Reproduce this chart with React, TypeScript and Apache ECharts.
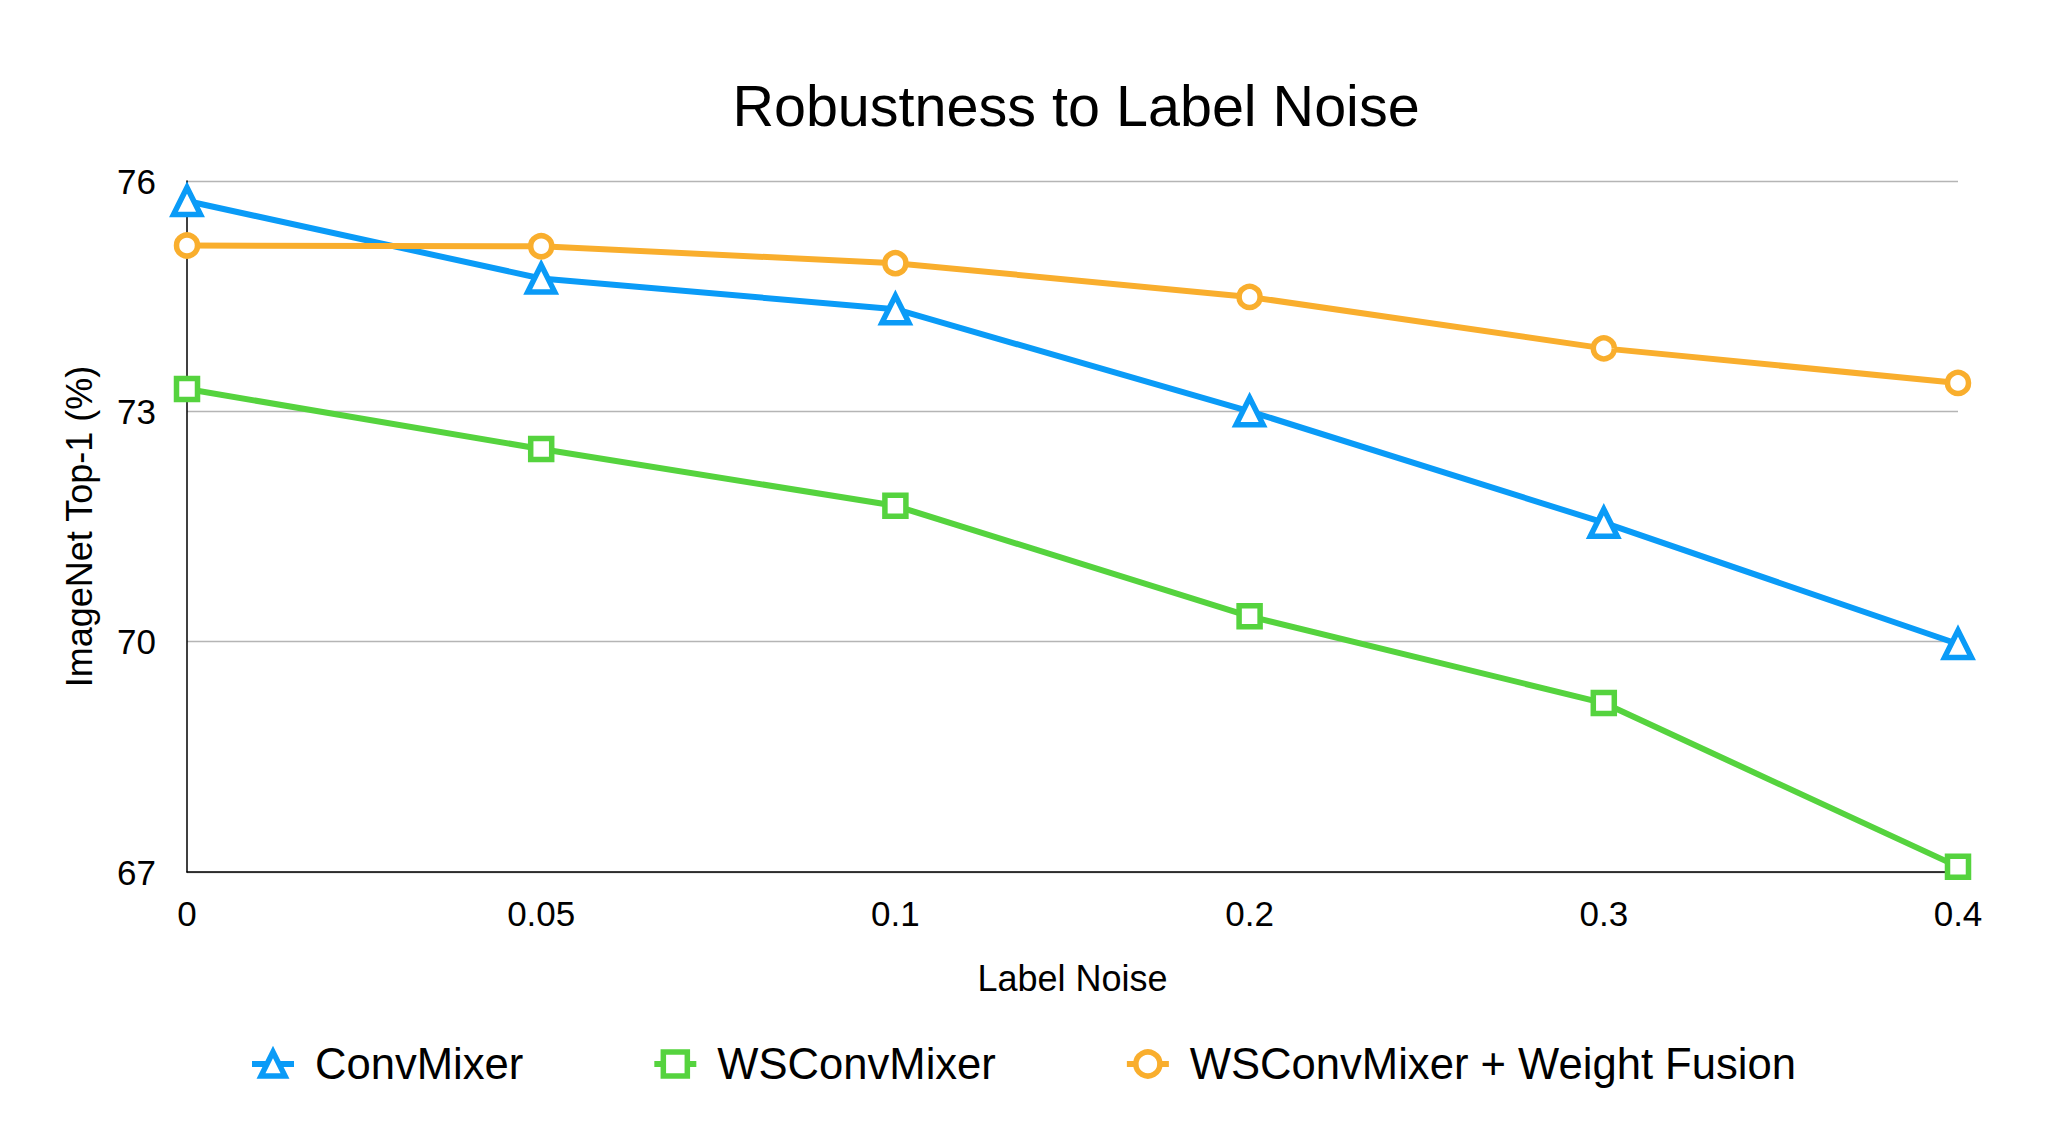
import React, { useEffect, useRef } from "react";
import * as echarts from "echarts";

const categories = ["0", "0.05", "0.1", "0.2", "0.3", "0.4"];
const convMixer = [75.74, 74.73, 74.33, 73.0, 71.55, 69.97];
const wsConvMixer = [73.29, 72.51, 71.77, 70.33, 69.2, 67.07];
const wsFusion = [75.16, 75.15, 74.93, 74.49, 73.82, 73.37];
const yTicks = { min: 67, max: 76, interval: 3 };

const FONT = "'Liberation Sans', Arial, Helvetica, sans-serif";

export default function App() {
  const ref = useRef<HTMLDivElement>(null);
  useEffect(() => {
    if (!ref.current) return;
    const chart = echarts.init(ref.current, undefined, { renderer: "svg" });
    const mk = (name: string, data: number[], color: string, symbol: string, size: number) => ({
      name,
      type: "line",
      data,
      symbol,
      symbolSize: size,
      showAllSymbol: true,
      lineStyle: { color, width: 6 },
      itemStyle: { color: "#ffffff", borderColor: color, borderWidth: 5.5 },
      emphasis: { disabled: true },
    });
    chart.setOption({
      animation: false,
      backgroundColor: "#ffffff",
      title: {
        text: "Robustness to Label Noise",
        left: 1071,
        textAlign: "center",
        top: 72,
        textStyle: { fontFamily: FONT, fontSize: 57.5, fontWeight: "normal", color: "#000" },
      },
      legend: {
        top: 1037,
        left: 244,
        itemWidth: 42,
        itemHeight: 30,
        itemGap: 128,
        lineStyle: { width: 6 },
        itemStyle: { borderWidth: 5.5 },
        textStyle: { fontFamily: FONT, fontSize: 43.6, color: "#000", padding: [0, 0, 0, 16] },
        data: ["ConvMixer", "WSConvMixer", "WSConvMixer + Weight Fusion"],
      },
      grid: { left: 187, right: 109, top: 181, bottom: 252, containLabel: false },
      xAxis: {
        type: "category",
        data: categories,
        boundaryGap: false,
        name: "Label Noise",
        nameLocation: "middle",
        nameGap: 88,
        nameTextStyle: { fontFamily: FONT, fontSize: 36, color: "#000" },
        axisLine: { lineStyle: { color: "#000", width: 1.5 } },
        axisTick: { show: false },
        axisLabel: { fontFamily: FONT, fontSize: 35, color: "#000", margin: 24 },
        splitLine: { show: false },
      },
      yAxis: {
        type: "value",
        min: yTicks.min,
        max: yTicks.max,
        interval: yTicks.interval,
        name: "ImageNet Top-1 (%)",
        nameLocation: "middle",
        nameGap: 90,
        nameTextStyle: { fontFamily: FONT, fontSize: 36, color: "#000" },
        axisLine: { show: true, lineStyle: { color: "#000", width: 1.5 } },
        axisTick: { show: false },
        axisLabel: { fontFamily: FONT, fontSize: 35, color: "#000", margin: 31 },
        splitLine: { show: true, lineStyle: { color: "#b5b5b5", width: 1.3 } },
      },
      series: [
        mk("ConvMixer", convMixer, "#0A9BF7", "triangle", 27),
        mk("WSConvMixer", wsConvMixer, "#55D33E", "rect", 21),
        mk("WSConvMixer + Weight Fusion", wsFusion, "#F9AE2D", "circle", 21),
      ],
    });
    return () => chart.dispose();
  }, []);
  return (
    <div
      ref={ref}
      style={{ position: "absolute", left: 0, top: 0, width: 2067, height: 1124, background: "#fff" }}
    />
  );
}
